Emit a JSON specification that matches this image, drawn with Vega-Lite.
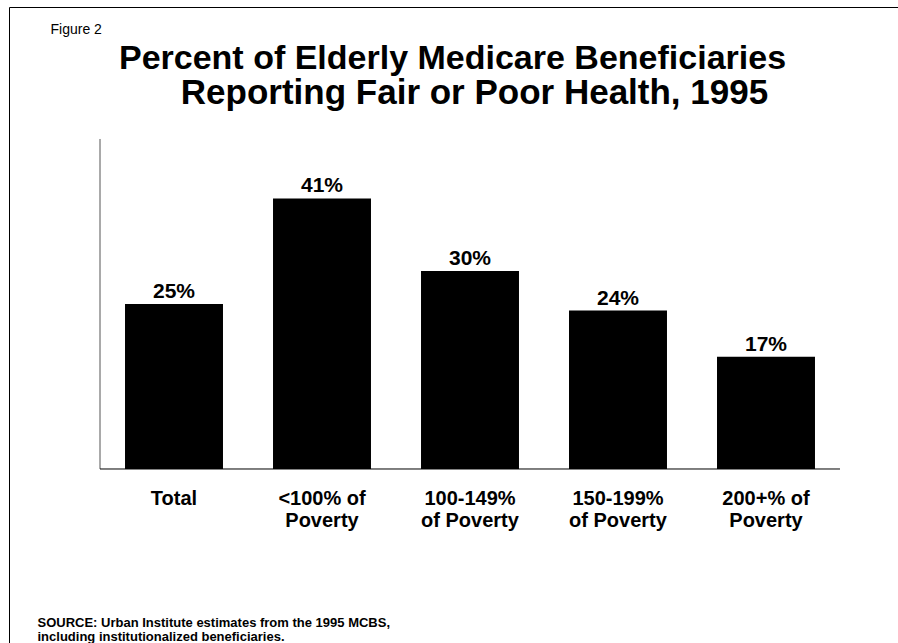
{
  "$schema": "https://vega.github.io/schema/vega-lite/v6.json",
  "width": 889,
  "height": 636,
  "autosize": {"type": "none"},
  "padding": {"left": 9, "top": 7, "right": 0, "bottom": 0},
  "background": "white",
  "title": {
    "text": "Percent of Elderly Medicare Beneficiaries",
    "font": "Liberation Sans",
    "fontSize": 34,
    "fontWeight": "bold",
    "color": "#000000",
    "anchor": "middle",
    "frame": "group",
    "offset": -96,
    "baseline": "alphabetic",
    "dx": -1
  },
  "data": {
    "values": [
      {"category": "Total", "value": 0.25},
      {"category": "<100% of\nPoverty", "value": 0.41},
      {"category": "100-149%\nof Poverty", "value": 0.30},
      {"category": "150-199%\nof Poverty", "value": 0.24},
      {"category": "200+% of\nPoverty", "value": 0.17}
    ]
  },
  "resolve": {"axis": {"x": "independent"}},
  "layer": [
    {
      "mark": {"type": "bar", "color": "#000000"},
      "encoding": {
        "x": {
          "field": "category",
          "type": "nominal",
          "sort": null,
          "scale": {
            "domain": ["Total", "<100% of\nPoverty", "100-149%\nof Poverty", "150-199%\nof Poverty", "200+% of\nPoverty"],
            "paddingInner": 0.338,
            "paddingOuter": 0.6724,
            "align": 0.5829,
            "round": false
          },
          "axis": {
            "orient": "top",
            "domain": true,
            "domainColor": "#000000",
            "domainWidth": 1,
            "ticks": false,
            "labels": false,
            "grid": false,
            "title": "Figure 2",
            "titleX": 41,
            "titleY": 26,
            "titleAlign": "left",
            "titleAngle": 0,
            "titleBaseline": "alphabetic",
            "titleFont": "Liberation Sans",
            "titleFontSize": 14,
            "titleFontWeight": "normal",
            "titleColor": "#000000"
          }
        },
        "y": {
          "field": "value",
          "type": "quantitative",
          "scale": {"domain": [-0.26364, 0.7], "nice": false, "zero": false},
          "axis": {
            "orient": "left",
            "domain": true,
            "domainColor": "#000000",
            "domainWidth": 1,
            "ticks": false,
            "labels": false,
            "grid": false,
            "title": ["SOURCE: Urban Institute estimates from the 1995 MCBS,", "including institutionalized beneficiaries."],
            "titleX": 28,
            "titleY": 619,
            "titleAngle": 0,
            "titleAlign": "left",
            "titleBaseline": "alphabetic",
            "titleFont": "Liberation Sans",
            "titleFontSize": 13,
            "titleFontWeight": "bold",
            "titleLineHeight": 14,
            "titleColor": "#000000"
          }
        },
        "y2": {"datum": 0}
      }
    },
    {
      "mark": {"type": "text", "baseline": "alphabetic", "dy": -6, "fontSize": 21, "fontWeight": "bold", "font": "Liberation Sans", "color": "#000000"},
      "encoding": {
        "x": {
          "field": "category",
          "type": "nominal",
          "sort": null,
          "axis": {
            "orient": "bottom",
            "offset": -174,
            "domain": false,
            "ticks": false,
            "tickSize": 0,
            "grid": false,
            "labelPadding": 19,
            "labelAngle": 0,
            "labelBaseline": "top",
            "labelFont": "Liberation Sans",
            "labelFontSize": 20,
            "labelFontWeight": "bold",
            "labelColor": "#000000",
            "labelLineHeight": 22,
            "labelExpr": "split(datum.label, '\\n')",
            "title": "Reporting Fair or Poor Health, 1995",
            "titleX": 465,
            "titleY": -366,
            "titleAlign": "center",
            "titleAngle": 0,
            "titleBaseline": "alphabetic",
            "titleFont": "Liberation Sans",
            "titleFontSize": 35,
            "titleFontWeight": "bold",
            "titleColor": "#000000"
          }
        },
        "y": {"field": "value", "type": "quantitative"},
        "text": {"field": "value", "type": "quantitative", "format": ".0%"}
      }
    },
    {
      "data": {"values": [{}]},
      "mark": {"type": "rule", "color": "#555555", "strokeWidth": 1, "xOffset": -74},
      "encoding": {
        "x": {"datum": "Total", "type": "nominal", "axis": null},
        "y": {"datum": 0, "type": "quantitative"},
        "y2": {"datum": 0.5}
      }
    },
    {
      "data": {"values": [{}]},
      "mark": {"type": "rule", "color": "#000000", "strokeWidth": 1, "xOffset": -74, "x2Offset": 74},
      "encoding": {
        "x": {"datum": "Total", "type": "nominal", "axis": null},
        "x2": {"datum": "200+% of\nPoverty"},
        "y": {"datum": 0, "type": "quantitative"}
      }
    }
  ],
  "config": {
    "view": {"stroke": null},
    "font": "Liberation Sans",
    "axis": {"grid": false}
  }
}
